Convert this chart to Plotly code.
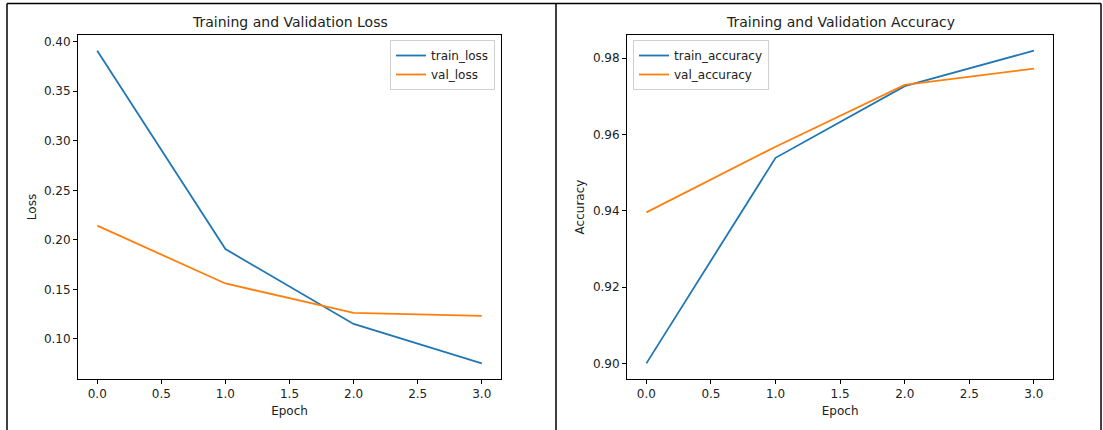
import plotly.graph_objects as go

epochs = [0, 1, 2, 3]
train_loss = [0.3909, 0.1907, 0.1152, 0.0754]
val_loss = [0.2143, 0.1560, 0.1264, 0.1233]
train_accuracy = [0.9000, 0.9539, 0.9727, 0.9820]
val_accuracy = [0.9396, 0.9568, 0.9730, 0.9773]

loss_ticks = [0.10, 0.15, 0.20, 0.25, 0.30, 0.35, 0.40]
acc_ticks = [0.90, 0.92, 0.94, 0.96, 0.98]
epoch_ticks = [0.0, 0.5, 1.0, 1.5, 2.0, 2.5, 3.0]

BLUE = "#1f77b4"
ORANGE = "#ff7f0e"
W, H = 1103, 430
FONT = "DejaVu Sans"

fig = go.Figure()
fig.add_trace(go.Scatter(x=epochs, y=train_loss, mode="lines", name="train_loss",
                         line=dict(color=BLUE, width=1.8), xaxis="x", yaxis="y", legend="legend"))
fig.add_trace(go.Scatter(x=epochs, y=val_loss, mode="lines", name="val_loss",
                         line=dict(color=ORANGE, width=1.8), xaxis="x", yaxis="y", legend="legend"))
fig.add_trace(go.Scatter(x=epochs, y=train_accuracy, mode="lines", name="train_accuracy",
                         line=dict(color=BLUE, width=1.8), xaxis="x2", yaxis="y2", legend="legend2"))
fig.add_trace(go.Scatter(x=epochs, y=val_accuracy, mode="lines", name="val_accuracy",
                         line=dict(color=ORANGE, width=1.8), xaxis="x2", yaxis="y2", legend="legend2"))

def pad(vals):
    lo, hi = min(vals), max(vals)
    d = (hi - lo) * 0.05
    return [lo - d, hi + d]

ydom = [1 - 379 / H, 1 - 35 / H]
axis_common = dict(showline=True, mirror=True, linecolor="black", linewidth=1,
                   ticks="outside", ticklen=4, tickcolor="black", tickwidth=1,
                   showgrid=False, zeroline=False, automargin=False,
                   tickfont=dict(family=FONT, size=12, color="#222"))

fig.update_layout(
    width=W, height=H,
    margin=dict(l=0, r=0, t=0, b=0, pad=0, autoexpand=False),
    paper_bgcolor="white", plot_bgcolor="white",
    font=dict(family=FONT, color="#222"),
    xaxis=dict(domain=[78 / W, 501 / W], anchor="y", range=pad(epochs),
               tickvals=epoch_ticks, ticktext=[f"{v:.1f}" for v in epoch_ticks],
               title=dict(text="Epoch", standoff=6, font=dict(family=FONT, size=12)), **axis_common),
    yaxis=dict(domain=ydom, anchor="x", range=pad(train_loss + val_loss),
               tickvals=loss_ticks, ticktext=[f"{v:.2f}" for v in loss_ticks],
               title=dict(text="Loss", standoff=4, font=dict(family=FONT, size=12)), **axis_common),
    xaxis2=dict(domain=[627 / W, 1053.3 / W], anchor="y2", range=pad(epochs),
                tickvals=epoch_ticks, ticktext=[f"{v:.1f}" for v in epoch_ticks],
                title=dict(text="Epoch", standoff=6, font=dict(family=FONT, size=12)), **axis_common),
    yaxis2=dict(domain=ydom, anchor="x2", range=pad(train_accuracy + val_accuracy),
                tickvals=acc_ticks, ticktext=[f"{v:.2f}" for v in acc_ticks],
                title=dict(text="Accuracy", standoff=5, font=dict(family=FONT, size=12)), **axis_common),
    legend=dict(x=495 / W, y=1 - 40 / H, xanchor="right", yanchor="top",
                bordercolor="#d0d0d0", borderwidth=1, bgcolor="rgba(255,255,255,0.8)",
                font=dict(family=FONT, size=12, color="#222"), tracegroupgap=0,
                itemwidth=30),
    legend2=dict(x=633 / W, y=1 - 40 / H, xanchor="left", yanchor="top",
                 bordercolor="#d0d0d0", borderwidth=1, bgcolor="rgba(255,255,255,0.8)",
                 font=dict(family=FONT, size=12, color="#222"), tracegroupgap=0,
                 itemwidth=30),
    annotations=[
        dict(text="Training and Validation Loss", xref="paper", yref="paper",
             x=(78 + 501) / 2 / W, y=1 - 22 / H, xanchor="center", yanchor="middle",
             showarrow=False, font=dict(family=FONT, size=14, color="#222")),
        dict(text="Training and Validation Accuracy", xref="paper", yref="paper",
             x=(627 + 1053.3) / 2 / W, y=1 - 22 / H, xanchor="center", yanchor="middle",
             showarrow=False, font=dict(family=FONT, size=14, color="#222")),
    ],
    shapes=[
        dict(type="line", xref="paper", yref="paper", x0=7 / W, x1=7 / W, y0=0, y1=1 - 3.5 / H,
             line=dict(color="black", width=1.5)),
        dict(type="line", xref="paper", yref="paper", x0=7 / W, x1=1101 / W, y0=1 - 3.5 / H, y1=1 - 3.5 / H,
             line=dict(color="black", width=1.5)),
        dict(type="line", xref="paper", yref="paper", x0=556 / W, x1=556 / W, y0=0, y1=1 - 3.5 / H,
             line=dict(color="black", width=1.5)),
        dict(type="line", xref="paper", yref="paper", x0=1101 / W, x1=1101 / W, y0=0, y1=1 - 3.5 / H,
             line=dict(color="black", width=1.5)),
    ],
)

fig.write_html("out.html", config={"displayModeBar": False},
               post_script="document.body.style.margin='0';document.body.style.overflow='hidden';")
